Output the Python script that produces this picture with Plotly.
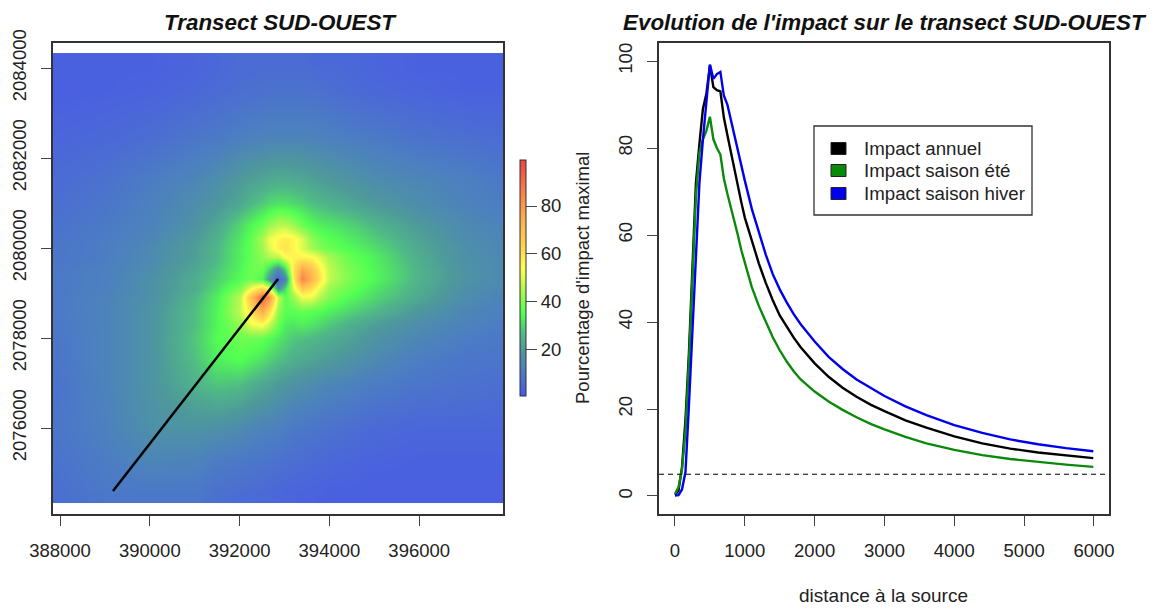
import plotly.graph_objects as go

FONT = "Liberation Sans"
W, H = 1156, 608

# ---- map grid (rows listed north to south) ----
map_x = [387850, 389000, 390000, 391000, 391500, 392000, 392250, 392500, 392650, 392850, 393000,
         393200, 393400, 393600, 393800, 394000, 394400, 395000, 396000, 397000, 397850]
map_y = [2084233, 2084033, 2083500, 2082500, 2081500, 2081000, 2080500, 2080200, 2080000, 2079800,
         2079500, 2079300, 2079100, 2078900, 2078600, 2078300, 2078000, 2077500, 2077000, 2076000,
         2075300, 2074633, 2074433]
map_z = [
 [3, 3, 3, 4, 5, 6, 6, 6, 6, 6, 6, 6, 6, 5, 5, 5, 5, 4, 3, 3, 3],
 [3, 3, 3, 4, 5, 6, 6, 6.5, 6.5, 6.5, 6.5, 6.5, 6.5, 6, 5.5, 5.5, 5, 4, 3, 3, 3],
 [2.5, 3, 3.5, 5, 6, 7, 7.5, 7.5, 8, 8, 8, 8, 8, 8, 7.5, 7, 6, 5, 4, 3, 3],
 [4, 5, 6.5, 9, 10, 11.5, 12, 12.5, 13, 13, 13, 13, 13, 12.5, 12.5, 12, 11, 10, 8, 7, 6],
 [6, 8, 11, 14, 16.5, 20, 21.5, 22.5, 23.5, 24, 24, 23.5, 23, 22, 21, 20, 18.5, 16, 14, 12, 10],
 [7, 9, 12, 16, 19, 23, 26, 28, 30, 31, 31, 30, 29, 27, 26, 25, 23, 20, 16, 13, 11],
 [8, 10, 13, 18, 23, 30, 34, 38, 42, 46, 46, 43, 38, 35, 33, 32, 30, 26, 20, 15, 13],
 [8.5, 11, 14, 20, 25, 32, 37, 44, 52, 56, 58, 56, 50, 42, 38, 36, 33, 29, 22, 16, 14],
 [9, 11, 15, 21, 26, 33, 37, 43, 50, 57, 60, 56, 50, 44, 40, 38, 35, 31, 23, 17, 14],
 [9, 11, 15, 21, 26, 33, 37, 41, 45, 46, 54, 56, 56, 55, 50, 44, 38, 33, 24, 17, 15],
 [10, 12, 16, 23, 28, 34, 38, 38, 28, 14, 28, 58, 78, 70, 57, 47, 40, 34, 25, 18, 15],
 [10, 12, 17, 24, 29, 35, 38, 34, 20, 3, 14, 56, 85, 74, 59, 47, 40, 34, 25, 18, 15],
 [10, 12, 17, 24, 31, 40, 52, 62, 54, 16, 30, 50, 67, 61, 51, 43, 38, 32, 24, 17, 14],
 [10, 13, 17, 26, 33, 46, 70, 92, 82, 48, 36, 42, 52, 52, 45, 40, 35, 30, 23, 16, 13],
 [10, 13, 18, 27, 34, 47, 60, 76, 62, 42, 36, 36, 37, 36, 35, 33, 30, 26, 19, 14, 12],
 [9.5, 13, 18, 27, 34, 42, 52, 55, 48, 38, 33, 32, 33, 32, 30, 28, 25, 21, 16, 13, 11],
 [9, 13, 18, 28, 35, 38, 38, 37, 35, 32, 30, 28, 27, 26, 25, 24, 22, 18, 14, 11, 9.5],
 [9, 13, 18, 27, 33, 35, 33, 31, 29, 27, 26, 24, 23, 22, 21, 20, 18, 15, 11, 9, 9],
 [8, 13, 18, 25, 28, 27, 25, 23, 22, 20, 19, 18, 17, 16, 15, 14, 13, 11, 9, 8, 7],
 [9, 12, 17, 18, 17, 15.5, 14, 13, 12.5, 12, 11, 10, 9.5, 9, 8.5, 8, 7, 5.5, 4.5, 4.5, 4.5],
 [8, 11, 14, 13, 11, 10, 9.5, 9, 8.5, 8, 7.5, 7, 6.5, 6, 5.5, 5, 4.5, 3.5, 3, 3, 3],
 [7, 10, 10, 10, 8, 7, 6.5, 6, 5.5, 5, 4.5, 4, 4, 3.5, 3.5, 3, 3, 2.5, 2.5, 2.5, 2.5],
 [7, 9, 9, 9, 7.5, 6, 5.5, 5, 5, 4.5, 4, 4, 3.5, 3.5, 3, 3, 2.5, 2.5, 2.5, 2.5, 2.5],
]
map_stops = [(0.3, "#4A58E8"), (12, "#4C80C0"), (20, "#4E9A9A"), (26, "#50B888"), (31, "#50E068"),
             (35, "#52FF52"), (45, "#B0F850"), (54, "#FFFF50"), (62, "#FFD850"), (72, "#FFB850"),
             (85, "#FA8448"), (99.3, "#EE4444")]
transect_x = [389180, 392855]
transect_y = [2074600, 2079311]

# ---- transect curves ----
distance = [0, 50, 100, 150, 200, 250, 300, 350, 400, 450, 500, 550, 600, 650, 700, 750, 800, 850, 900, 950,
            1000, 1100, 1200, 1300, 1400, 1500, 1600, 1700, 1800, 2000, 2200, 2400, 2600, 2800, 3000, 3300,
            3600, 4000, 4400, 4800, 5200, 5600, 5990]
impact_annuel = [0.3, 1.2, 6.5, 17.5, 33, 53, 72, 81, 89, 92.5, 99, 94, 93.3, 93, 87, 83, 79, 75.5, 71.5, 67.5,
                 64, 58.5, 53.5, 49, 45, 41.5, 38.8, 36.4, 34.2, 30.5, 27.4, 24.9, 22.8, 21, 19.5, 17.4,
                 15.7, 13.7, 12.1, 10.9, 10, 9.3, 8.7]
impact_ete = [0.5, 2, 6, 15, 31, 50, 69, 79, 82, 84, 87.2, 82, 80, 78.5, 73, 69.5, 66.5, 63, 60, 56.5,
              53.5, 48, 43.7, 40, 36.5, 33.5, 30.9, 28.7, 26.8, 24, 21.7, 19.8, 18.1, 16.6, 15.3, 13.6,
              12.1, 10.6, 9.4, 8.5, 7.8, 7.2, 6.7]
impact_hiver = [0.1, 0.2, 1.5, 5.5, 21, 37, 54, 72, 82, 91, 99.2, 95.9, 97, 97.5, 92, 90, 86.5, 82.5, 79, 75.7,
                72.5, 66, 60.5, 55.5, 51, 47.5, 44.5, 41.8, 39.5, 35.5, 32, 29.2, 26.8, 24.8, 23, 20.6,
                18.6, 16.3, 14.5, 13, 11.9, 11, 10.3]
seuil = 5
legend_labels = ["Impact annuel", "Impact saison été", "Impact saison hiver"]
legend_colors = ["#000000", "#0A8A0A", "#0000EE"]
curve_series = [impact_annuel, impact_ete, impact_hiver]

zmin, zmax = map_stops[0][0], map_stops[-1][0]
colorscale = [[(v - zmin) / (zmax - zmin), c] for v, c in map_stops]


def px(x): return x / W
def py(y): return 1 - y / H


fig = go.Figure()
fig.add_trace(go.Heatmap(
    x=map_x, y=map_y[::-1], z=map_z[::-1], zmin=zmin, zmax=zmax, zsmooth="best",
    colorscale=colorscale, xaxis="x", yaxis="y", hoverinfo="skip",
    colorbar=dict(
        x=px(520), xanchor="left", xpad=0, y=py(396), yanchor="bottom", ypad=0,
        lenmode="pixels", len=236, thicknessmode="pixels", thickness=6,
        outlinecolor="#333333", outlinewidth=1, tickvals=[20, 40, 60, 80],
        ticks="outside", ticklen=11, tickwidth=1, tickcolor="#444444", tickprefix="\u00a0",
        tickfont=dict(family=FONT, size=18.5, color="#222222"),
    ),
))
fig.add_trace(go.Scatter(x=transect_x, y=transect_y, mode="lines", xaxis="x", yaxis="y",
                         line=dict(color="#000000", width=2.5), showlegend=False, hoverinfo="skip"))
for name, color, vals in zip(legend_labels, legend_colors, curve_series):
    fig.add_trace(go.Scatter(x=distance, y=vals, mode="lines", name=name, xaxis="x2", yaxis="y2",
                             line=dict(color=color, width=2.4), showlegend=False))

axis_common = dict(showgrid=False, zeroline=False, showline=True, mirror=True, linecolor="#333333",
                   linewidth=1.5, ticks="outside", ticklen=10, tickwidth=1.2, tickcolor="#444444",
                   tickfont=dict(family=FONT, size=18.5, color="#222222"), tickformat="d")

shapes = [dict(type="line", xref="x2 domain", x0=0, x1=1, yref="y2", y0=seuil, y1=seuil,
               line=dict(color="#000000", width=1.2, dash="5px,4px")),
          dict(type="rect", xref="paper", yref="paper", x0=px(814), x1=px(1032), y0=py(215), y1=py(126),
               line=dict(color="#333333", width=1.3), fillcolor="#FFFFFF")]


def note(text, x, y, size, xanchor="center", angle=0, color="#222222"):
    return dict(text=text, xref="paper", yref="paper", x=px(x), y=py(y), xanchor=xanchor, yanchor="middle",
                showarrow=False, textangle=angle, font=dict(family=FONT, size=size, color=color))


annotations = [
    note("<b><i>Transect SUD-OUEST</i></b>", 280, 22, 22.4, color="#111111"),
    note("<b><i>Evolution de l'impact sur le transect SUD-OUEST</i></b>", 885, 22, 22.4, color="#111111"),
    note("distance à la source", 883, 595, 19),
    note("Pourcentage d'impact maximal", 582, 278, 18.5, angle=-90),
]
for label, color, yc in zip(legend_labels, legend_colors, [148.5, 170.5, 193.5]):
    shapes.append(dict(type="rect", xref="paper", yref="paper", x0=px(831), x1=px(846),
                       y0=py(yc + 6), y1=py(yc - 6), fillcolor=color, line=dict(color="#222222", width=1)))
    annotations.append(note(label, 862, yc, 18.7, xanchor="left"))

fig.update_layout(
    width=W, height=H, margin=dict(l=0, r=0, t=0, b=0, autoexpand=False), paper_bgcolor="white",
    plot_bgcolor="white", showlegend=False, shapes=shapes, annotations=annotations,
    xaxis=dict(domain=[px(53), px(503)], range=[387844, 397866], anchor="y", ticklabelstandoff=9,
               tickvals=[388000, 390000, 392000, 394000, 396000], **axis_common),
    yaxis=dict(domain=[py(514), py(43)], range=[2074089, 2084556], anchor="x", tickangle=-90, ticklabelstandoff=8,
               tickvals=[2076000, 2078000, 2080000, 2082000, 2084000], **axis_common),
    xaxis2=dict(domain=[px(659), px(1109)], range=[-229, 6215], anchor="y2", ticklabelstandoff=9,
                tickvals=[0, 1000, 2000, 3000, 4000, 5000, 6000], **axis_common),
    yaxis2=dict(domain=[py(514), py(43)], range=[-4.14, 104.14], anchor="x2", tickangle=-90, ticklabelstandoff=8,
                tickvals=[0, 20, 40, 60, 80, 100], **axis_common),
)
fig.write_html("out.html", config={"displayModeBar": False},
               post_script="document.body.style.margin='0';")
